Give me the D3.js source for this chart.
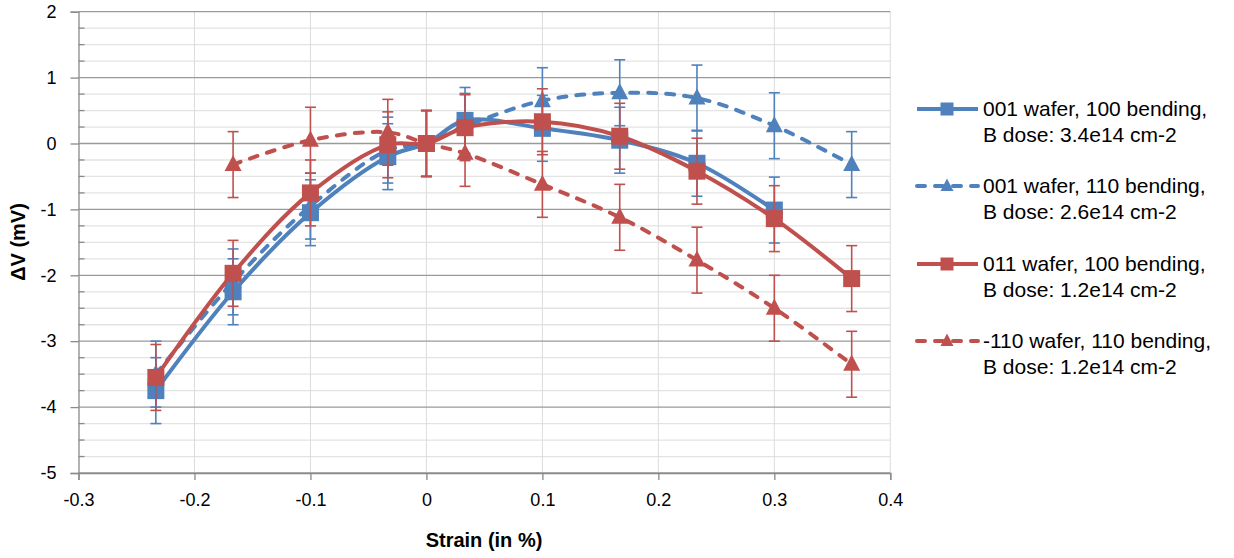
<!DOCTYPE html>
<html>
<head>
<meta charset="utf-8">
<script src="https://cdn.jsdelivr.net/npm/d3@7"></script>
<style>
  body { margin: 0; background: #fff; }
  svg text { font-family: "Liberation Sans", Arial, sans-serif; fill: #000; }
</style>
</head>
<body>
<div id="chart"></div>
<script>
// strain positions (in %)
var strain = [-0.2333, -0.1667, -0.1, -0.0333, 0, 0.0333, 0.1, 0.1667, 0.2333, 0.3, 0.3667];

// delta V (mV), null where the series has no point
var s001_100 = [-3.75, -2.25, -1.05, -0.2, 0, 0.35, 0.23, 0.05, -0.3, -1.01, null];
var s001_110 = [-3.5, -2.1, -0.95, -0.1, 0, 0.26, 0.65, 0.77, 0.69, 0.27, -0.32];
var s011_100 = [-3.55, -1.97, -0.75, -0.02, 0, 0.24, 0.33, 0.11, -0.42, -1.14, -2.05];
var s110_110 = [null, -0.32, 0.05, 0.17, 0, -0.15, -0.62, -1.12, -1.77, -2.5, -3.35];
var errBar = 0.5;

var seriesNames = [
  ["001 wafer, 100 bending,", "B dose: 3.4e14 cm-2"],
  ["001 wafer, 110 bending,", "B dose: 2.6e14 cm-2"],
  ["011 wafer, 100 bending,", "B dose: 1.2e14 cm-2"],
  ["-110 wafer, 110 bending,", "B dose: 1.2e14 cm-2"]
];
var xTicks = [-0.3, -0.2, -0.1, 0, 0.1, 0.2, 0.3, 0.4];
var yTicks = [-5, -4, -3, -2, -1, 0, 1, 2];

var blue = "#4f81bd", red = "#c0504d";
var series = [
  { vals: s001_100, color: blue, dashed: false, marker: "square" },
  { vals: s001_110, color: blue, dashed: true,  marker: "triangle" },
  { vals: s011_100, color: red,  dashed: false, marker: "square" },
  { vals: s110_110, color: red,  dashed: true,  marker: "triangle" }
];

var W = 1234, H = 558;
var svg = d3.select("#chart").append("svg").attr("width", W).attr("height", H);

var x = d3.scaleLinear().domain([-0.3, 0.4]).range([78.5, 890.3]);
var y = d3.scaleLinear().domain([-5, 2]).range([473, 11.7]);

// plain hyphen for negatives, like the original
function fmt(d, p) {
  var s = d3.format(p)(Math.abs(d));
  if (d === 0) return "0";
  return (d < 0 ? "-" : "") + s;
}

// minor horizontal gridlines
var minor = d3.range(-5, 2.001, 0.25).filter(function(v){ return Math.abs(v - Math.round(v)) > 0.01; });
svg.append("g").selectAll("line").data(minor).enter().append("line")
  .attr("x1", x(-0.3)).attr("x2", x(0.4))
  .attr("y1", function(d){ return y(d); }).attr("y2", function(d){ return y(d); })
  .attr("stroke", "#e3e3e3").attr("stroke-width", 1.3);
// vertical gridlines
svg.append("g").selectAll("line").data(xTicks.slice(1)).enter().append("line")
  .attr("x1", function(d){ return x(d); }).attr("x2", function(d){ return x(d); })
  .attr("y1", y(2)).attr("y2", y(-5))
  .attr("stroke", "#dcdcdc").attr("stroke-width", 1);
// major horizontal gridlines
svg.append("g").selectAll("line").data(yTicks).enter().append("line")
  .attr("x1", x(-0.3)).attr("x2", x(0.4))
  .attr("y1", function(d){ return y(d); }).attr("y2", function(d){ return y(d); })
  .attr("stroke", "#9a9a9a").attr("stroke-width", 1.3);

// y minor ticks (inside)
svg.append("g").selectAll("line").data(minor).enter().append("line")
  .attr("x1", x(-0.3)).attr("x2", x(-0.3) + 6)
  .attr("y1", function(d){ return y(d); }).attr("y2", function(d){ return y(d); })
  .attr("stroke", "#8a8a8a").attr("stroke-width", 1.3);

// axes
var yAxis = svg.append("g").attr("transform", "translate(" + x(-0.3) + ",0)")
  .call(d3.axisLeft(y).tickValues(yTicks).tickSize(8).tickPadding(14)
    .tickFormat(function(d){ return fmt(d, "d"); }));
var xAxis = svg.append("g").attr("transform", "translate(0," + y(-5) + ")")
  .call(d3.axisBottom(x).tickValues(xTicks).tickSize(7).tickPadding(13)
    .tickFormat(function(d){ return fmt(d, ".1f"); }));
[xAxis, yAxis].forEach(function(a){
  a.select(".domain").attr("stroke", "#8a8a8a").attr("stroke-width", 1.3);
  a.selectAll(".tick line").attr("stroke", "#8a8a8a").attr("stroke-width", 1.3);
  a.selectAll("text").attr("font-size", 18).attr("font-family", "Liberation Sans, Arial, sans-serif").attr("fill", "#000");
});

// axis titles
svg.append("text").attr("x", 484).attr("y", 547).attr("text-anchor", "middle")
  .attr("font-size", 20).attr("font-weight", "bold").text("Strain (in %)");
svg.append("text").attr("transform", "translate(25,242) rotate(-90)").attr("text-anchor", "middle")
  .attr("font-size", 20).attr("font-weight", "bold").text("ΔV (mV)");

var line = d3.line()
  .defined(function(d){ return d.v !== null; })
  .x(function(d){ return x(d.s); }).y(function(d){ return y(d.v); })
  .curve(d3.curveCatmullRom.alpha(0.5));

function drawMarker(g, type, cx, cy, size, color) {
  if (type === "square") {
    g.append("rect").attr("x", cx - size / 2).attr("y", cy - size / 2)
      .attr("width", size).attr("height", size).attr("fill", color);
  } else {
    var h = size * 0.95;
    g.append("path")
      .attr("d", "M" + cx + "," + (cy - h * 0.6) + "L" + (cx + size / 2) + "," + (cy + h * 0.4) + "L" + (cx - size / 2) + "," + (cy + h * 0.4) + "Z")
      .attr("fill", color);
  }
}

series.forEach(function(sr) {
  var pts = strain.map(function(s, i){ return { s: s, v: sr.vals[i] }; });
  var valid = pts.filter(function(d){ return d.v !== null; });
  var g = svg.append("g");
  // error bars
  valid.forEach(function(d) {
    var px = x(d.s), top = y(d.v + errBar), bot = y(d.v - errBar);
    g.append("line").attr("x1", px).attr("x2", px).attr("y1", top).attr("y2", bot)
      .attr("stroke", sr.color).attr("stroke-width", 1.6);
    [top, bot].forEach(function(py) {
      g.append("line").attr("x1", px - 5.5).attr("x2", px + 5.5).attr("y1", py).attr("y2", py)
        .attr("stroke", sr.color).attr("stroke-width", 1.6);
    });
  });
  g.append("path").datum(valid).attr("d", line)
    .attr("fill", "none").attr("stroke", sr.color).attr("stroke-width", 4)
    .attr("stroke-linecap", sr.dashed ? "round" : "butt")
    .attr("stroke-dasharray", sr.dashed ? "8,10" : null);
  valid.forEach(function(d) {
    drawMarker(g, sr.marker, x(d.s), y(d.v), 17, sr.color);
  });
});

// legend
var legendY = [109, 186, 264, 341];
series.forEach(function(sr, i) {
  var g = svg.append("g");
  var ly = legendY[i];
  g.append("line").attr("x1", 917).attr("x2", 978).attr("y1", ly).attr("y2", ly)
    .attr("stroke", sr.color).attr("stroke-width", 4)
    .attr("stroke-linecap", sr.dashed ? "round" : "butt")
    .attr("stroke-dasharray", sr.dashed ? "8,10" : null);
  drawMarker(g, sr.marker, 947, ly, 13, sr.color);
  seriesNames[i].forEach(function(t, k) {
    g.append("text").attr("x", 983).attr("y", ly + 7 + k * 26)
      .attr("font-size", 21).text(t);
  });
});
</script>
</body>
</html>
